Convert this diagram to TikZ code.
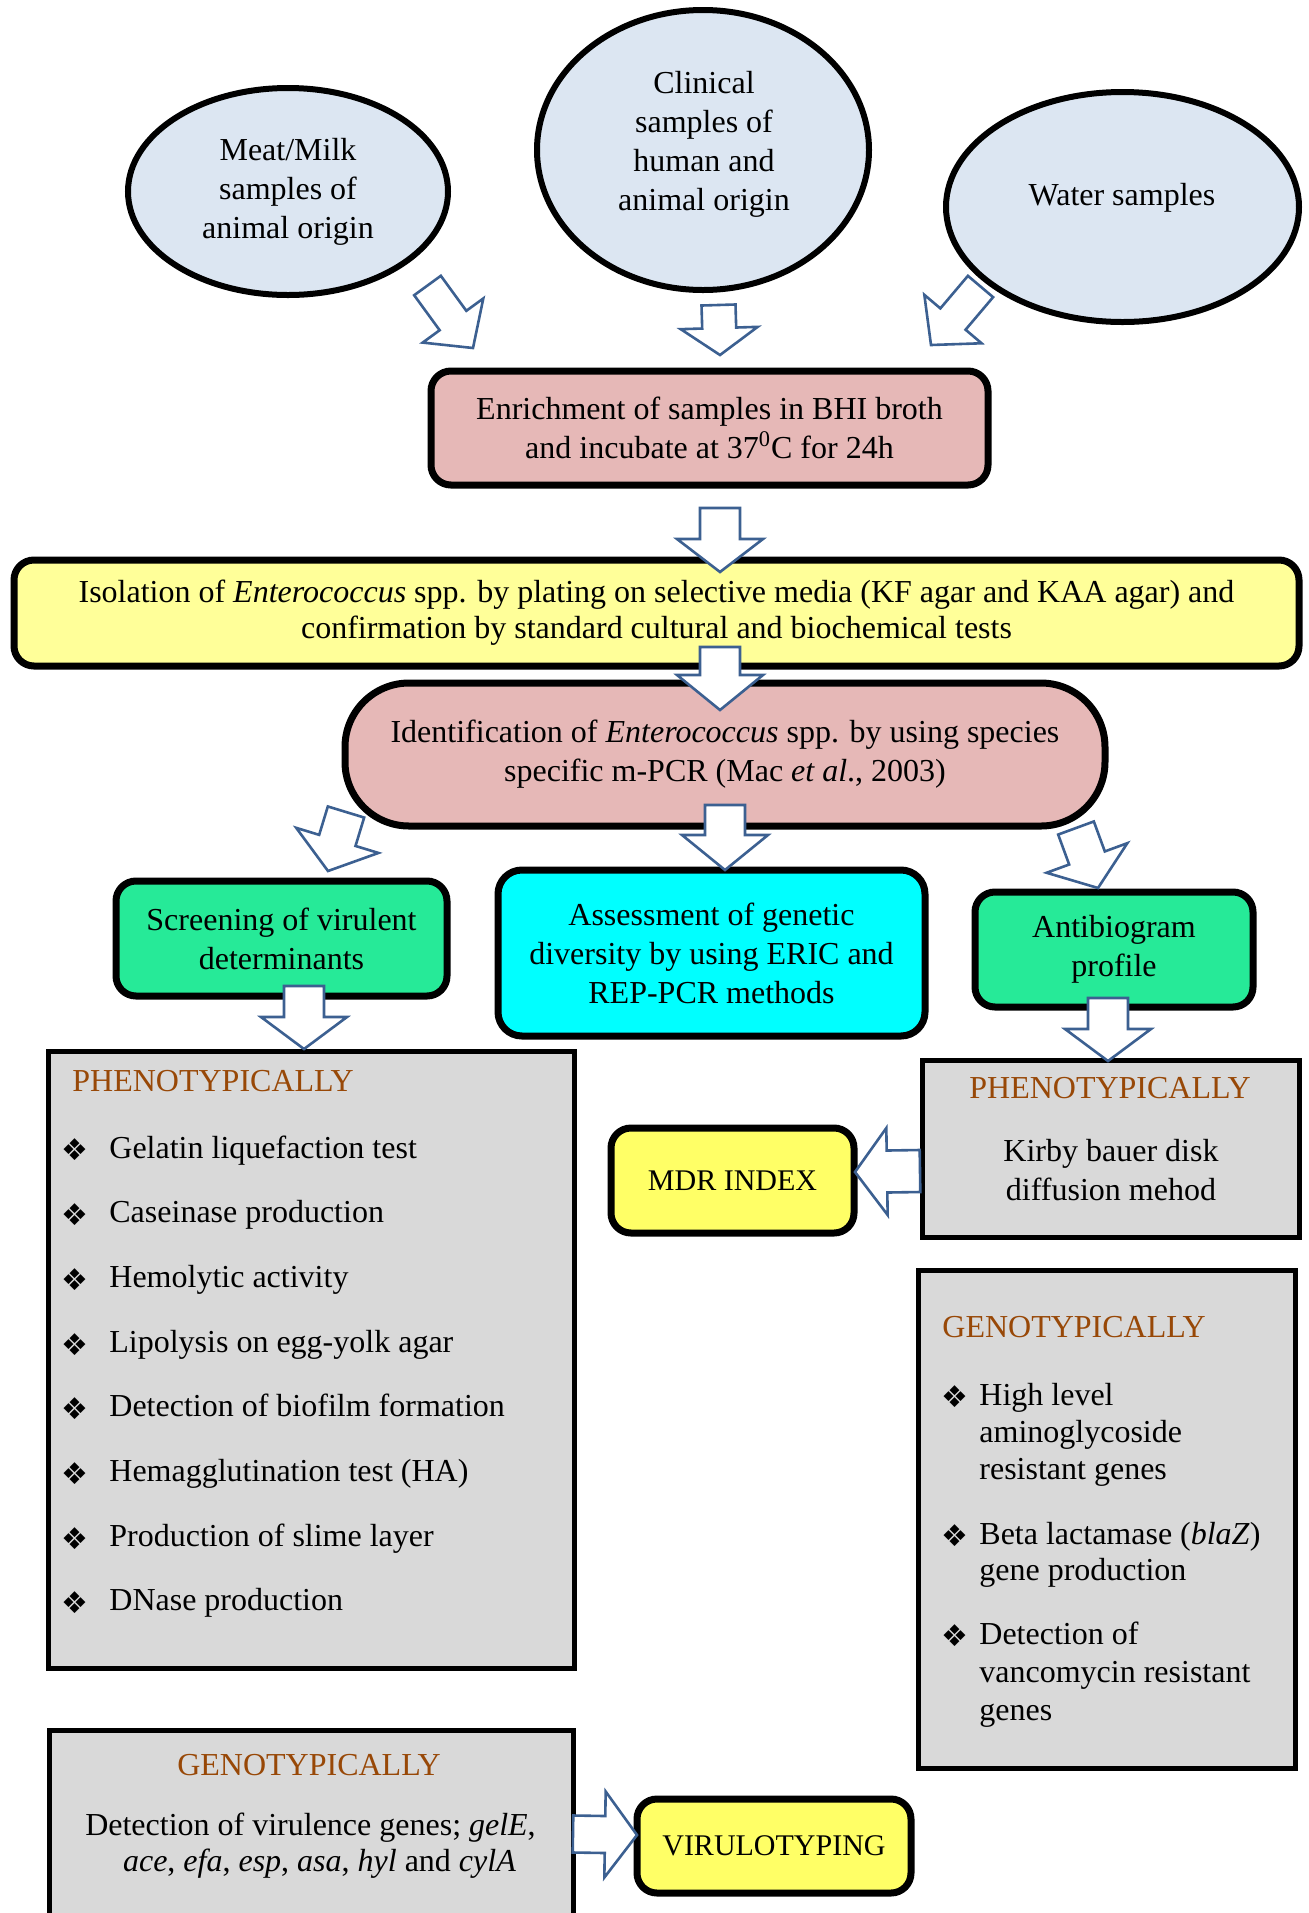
\documentclass[tikz,border=0pt]{standalone}
\usepackage{fontspec}
\setmainfont{Liberation Serif}
\newfontfamily\symfont{DejaVu Sans}
\usetikzlibrary{calc,shapes.geometric}
\definecolor{ellblue}{RGB}{220,230,242}
\definecolor{pinkfill}{RGB}{230,184,183}
\definecolor{yellowA}{RGB}{255,255,153}
\definecolor{yellowB}{RGB}{255,255,102}
\definecolor{greenfill}{RGB}{38,234,152}
\definecolor{cyanfill}{RGB}{0,255,255}
\definecolor{greyfill}{RGB}{217,217,217}
\definecolor{headbrown}{RGB}{152,72,7}
\definecolor{arrowblue}{RGB}{60,96,145}
\newcommand\blockarrow[5]{%
  \coordinate (hb) at ($(#2)!#5!(#1)$);
  \draw[barr] ($(#1)!#3!90:(#2)$) -- ($(hb)!#3!90:(#2)$) -- ($(hb)!#4!90:(#2)$)
    -- (#2) -- ($(hb)!#4!-90:(#2)$) -- ($(hb)!#3!-90:(#2)$) -- ($(#1)!#3!-90:(#2)$) -- cycle;}
\tikzset{
  txt/.style={font=\fontsize{16}{19.5}\selectfont, align=center, inner sep=0pt},
  ell/.style={ellipse, draw, line width=3pt, fill=ellblue, inner sep=0pt},
  rbox/.style={txt, rectangle, rounded corners=10pt, draw, line width=3.5pt},
  gbox/.style={rectangle, draw, line width=2.5pt, fill=greyfill, inner sep=0pt},
  ln/.style={font=\fontsize{16}{19.5}\selectfont, anchor=west, inner sep=0pt, text height=11pt, text depth=3pt},
  ttl/.style={ln, text=headbrown},
  bul/.style={font=\symfont\fontsize{15}{15}\selectfont, inner sep=0pt},
  barr/.style={draw=arrowblue, fill=white, line width=1.3pt, line join=miter},
}
\begin{document}
\begin{tikzpicture}[x=0.5pt,y=-0.5pt]
\useasboundingbox (0,0) rectangle (1309,1913);
% source ellipses
\node[ell, minimum width=160pt, minimum height=103.5pt] (e1) at (288,191.5) {};
\node[txt] (e1t) at (288,192) {Meat/Milk\\samples of\\animal origin};
\node[ell, minimum width=166pt, minimum height=140pt] (e2) at (703,150) {};
\node[txt] (e2t) at (704,144) {Clinical\\samples of\\human and\\animal origin};
\node[ell, minimum width=176.5pt, minimum height=115pt] (e3) at (1122.5,207) {};
\node[txt] (e3t) at (1122,198) {Water samples};
% main boxes
\node[rbox, fill=pinkfill, minimum width=278.5pt, minimum height=57pt] (enr) at (709.5,428)
  {Enrichment of samples in BHI broth\\and incubate at 37\textsuperscript{0}C for 24h};
\node[rbox, fill=yellowA, minimum width=642.5pt, minimum height=53pt, font=\fontsize{16}{18}\selectfont] (iso) at (656.5,613)
  {Isolation of \textit{Enterococcus} spp. by plating on selective media (KF agar and KAA agar) and\\confirmation by standard cultural and biochemical tests};
\node[rbox, fill=pinkfill, rounded corners=32pt, minimum width=380pt, minimum height=71.5pt] (ide) at (725,754.5)
  {Identification of \textit{Enterococcus} spp. by using species\\specific m-PCR (Mac \textit{et al}., 2003)};
\node[rbox, fill=greenfill, minimum width=165.5pt, minimum height=57.5pt] (scr) at (281.5,938.5)
  {Screening of virulent\\determinants};
\node[rbox, fill=cyanfill, rounded corners=12pt, minimum width=213.5pt, minimum height=83pt] (ass) at (711.5,953)
  {Assessment of genetic\\diversity by using ERIC and\\REP-PCR methods};
\node[rbox, fill=greenfill, minimum width=139pt, minimum height=57.5pt] (abg) at (1114,949.5)
  {Antibiogram\\profile};
\node[rbox, fill=yellowB, minimum width=121.5pt, minimum height=52.5pt, font=\fontsize{15}{18}\selectfont] (mdr) at (732.5,1180.5) {MDR INDEX};
\node[rbox, fill=yellowB, minimum width=137pt, minimum height=47pt, font=\fontsize{15}{18}\selectfont] (vir) at (774,1846) {VIRULOTYPING};
% grey boxes
\node[gbox, minimum width=263pt, minimum height=308.5pt] (phl) at (311,1359.5) {};
\node[gbox, minimum width=188.5pt, minimum height=88.5pt] (phr) at (1110.5,1148.5) {};
\node[gbox, minimum width=188.5pt, minimum height=249pt] (gnr) at (1106.5,1519) {};
\node[gbox, minimum width=262pt, minimum height=115pt] (gnl) at (311,1845) {};
% phenotypic (left)
\node[ttl] (phlt) at (72,1083) {PHENOTYPICALLY};
\foreach \t [count=\i] in {Gelatin liquefaction test, Caseinase production, Hemolytic activity,
  Lipolysis on egg-yolk agar, Detection of biofilm formation, Hemagglutination test (HA),
  Production of slime layer, DNase production}{
  \pgfmathsetmacro\yy{1150+64.7*(\i-1)}
  \node[bul] (phlb\i) at (75,\yy) {❖};
  \node[ln] (phli\i) at (109,\yy) {\t};
}
% phenotypic (right)
\node[ttl, anchor=center] (phrt) at (1110,1090) {PHENOTYPICALLY};
\node[ln, anchor=center] (phr1) at (1111,1153) {Kirby bauer disk};
\node[ln, anchor=center] (phr2) at (1111,1192) {diffusion mehod};
% genotypic (right)
\node[ttl] (gnrt) at (942,1329) {GENOTYPICALLY};
\node[bul] (gnrb1) at (955,1397) {❖};
\node[ln] (gnr1) at (979,1397) {High level};
\node[ln] (gnr2) at (979,1434) {aminoglycoside};
\node[ln] (gnr3) at (979,1471) {resistant genes};
\node[bul] (gnrb2) at (955,1536) {❖};
\node[ln] (gnr4) at (979,1536) {Beta lactamase (\textit{blaZ})};
\node[ln] (gnr5) at (979,1572) {gene production};
\node[bul] (gnrb3) at (955,1636) {❖};
\node[ln] (gnr6) at (979,1636) {Detection of};
\node[ln] (gnr7) at (979,1674) {vancomycin resistant};
\node[ln] (gnr8) at (979,1712) {genes};
% genotypic (left)
\node[ttl, anchor=center] (gnlt) at (309,1767) {GENOTYPICALLY};
\node[ln, anchor=center] (gnl1) at (310.5,1827) {Detection of virulence genes; \textit{gelE},};
\node[ln, anchor=center] (gnl2) at (319.5,1863) {\textit{ace}, \textit{efa}, \textit{esp}, \textit{asa}, \textit{hyl} and \textit{cylA}};
% block arrows
\coordinate (a1s) at (427.5,285.5); \coordinate (a1e) at (473,348);
\coordinate (a2s) at (718.5,305);   \coordinate (a2e) at (720,355);
\coordinate (a3s) at (980.5,286.5); \coordinate (a3e) at (931,345);
\coordinate (a4s) at (720,508);     \coordinate (a4e) at (720,572);
\coordinate (a5s) at (720,647);     \coordinate (a5e) at (720,710);
\coordinate (a6s) at (346,812);     \coordinate (a6e) at (328,871);
\coordinate (a7s) at (725,805);     \coordinate (a7e) at (725,870);
\coordinate (a8s) at (1076,828);    \coordinate (a8e) at (1098,888);
\coordinate (a9s) at (304,986);     \coordinate (a9e) at (304,1049);
\coordinate (a10s) at (1108,998);   \coordinate (a10e) at (1108,1061);
\coordinate (a11s) at (920,1171);   \coordinate (a11e) at (855,1172);
\coordinate (a12s) at (573,1834);   \coordinate (a12e) at (637,1835);
\blockarrow{a1s}{a1e}{8.25pt}{18.75pt}{17pt}
\blockarrow{a2s}{a2e}{8.5pt}{19.25pt}{13.5pt}
\blockarrow{a3s}{a3e}{8.25pt}{18.75pt}{17pt}
\blockarrow{a4s}{a4e}{10pt}{21.5pt}{16.5pt}
\blockarrow{a5s}{a5e}{10pt}{21.5pt}{17.5pt}
\blockarrow{a6s}{a6e}{9.5pt}{21.5pt}{16pt}
\blockarrow{a7s}{a7e}{10pt}{21.5pt}{17.5pt}
\blockarrow{a8s}{a8e}{9.5pt}{21.5pt}{16pt}
\blockarrow{a9s}{a9e}{10pt}{21.5pt}{16pt}
\blockarrow{a10s}{a10e}{10pt}{21.5pt}{16pt}
\blockarrow{a11s}{a11e}{10.5pt}{21.75pt}{16pt}
\blockarrow{a12s}{a12e}{9.25pt}{21.5pt}{16pt}
\end{tikzpicture}
\end{document}
